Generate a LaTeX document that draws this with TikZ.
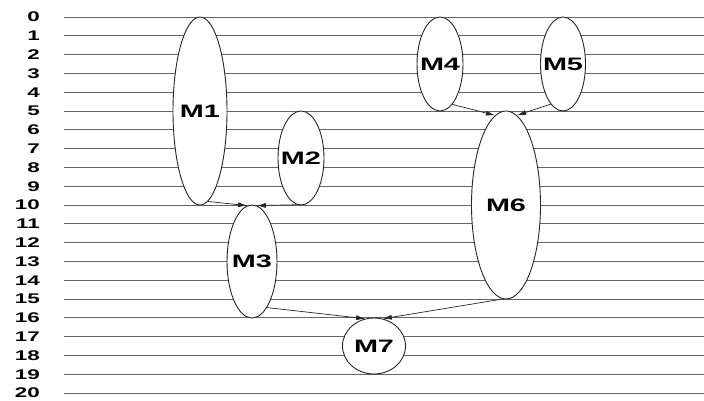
\documentclass[tikz,border=0pt]{standalone}
\usepackage{fontspec}
\usetikzlibrary{shapes.geometric,arrows.meta}
\newfontfamily\labfont[FakeStretch=1.6]{Liberation Sans}
\begin{document}
\begin{tikzpicture}[x=1pt,y=-1pt,
  rowline/.style={draw=black!60,line width=1pt},
  rowlab/.style={anchor=east,inner sep=0pt,font=\labfont\bfseries\fontsize{14}{14}\selectfont},
  task/.style={ellipse,draw=black!85,line width=0.9pt,fill=white,inner sep=0pt,
    font=\labfont\bfseries\fontsize{18}{18}\selectfont},
  arr/.style={draw=black!85,line width=0.7pt,-{Latex[length=9pt,width=5pt]}}]
\useasboundingbox (0,0) rectangle (704,400);
\foreach \i in {0,...,20}{
  \pgfmathsetmacro{\yy}{17+18.8*\i}
  \draw[rowline] (64,\yy) -- (704,\yy);
  \node[rowlab] (L\i) at (40,\yy) {\i};
}
\node[task,minimum width=54pt,minimum height=188pt] (M1) at (200,111) {\makebox[0pt]{M1}};
\node[task,minimum width=46pt,minimum height=94pt] (M2) at (301,158) {\makebox[0pt]{M2}};
\node[task,minimum width=50pt,minimum height=113pt] (M3) at (252,261.5) {\makebox[0pt]{M3}};
\node[task,minimum width=46pt,minimum height=94pt] (M4) at (440,64) {\makebox[0pt]{M4}};
\node[task,minimum width=45pt,minimum height=94pt] (M5) at (563,64) {\makebox[0pt]{M5}};
\node[task,minimum width=69pt,minimum height=188pt] (M6) at (506,205) {\makebox[0pt]{M6}};
\node[task,minimum width=63pt,minimum height=56pt] (M7) at (374,346) {\makebox[0pt]{M7}};
\draw[arr] (M1.-85) -- (M3.95);
\draw[arr] (M2.-95) -- (M3.85);
\draw[arr] (M4.-73) -- (M6.97);
\draw[arr] (M5.-107) -- (M6.83);
\draw[arr] (M3.-72) -- (M7.108);
\draw[arr] (M6.-92) -- (M7.72);
\end{tikzpicture}
\end{document}
